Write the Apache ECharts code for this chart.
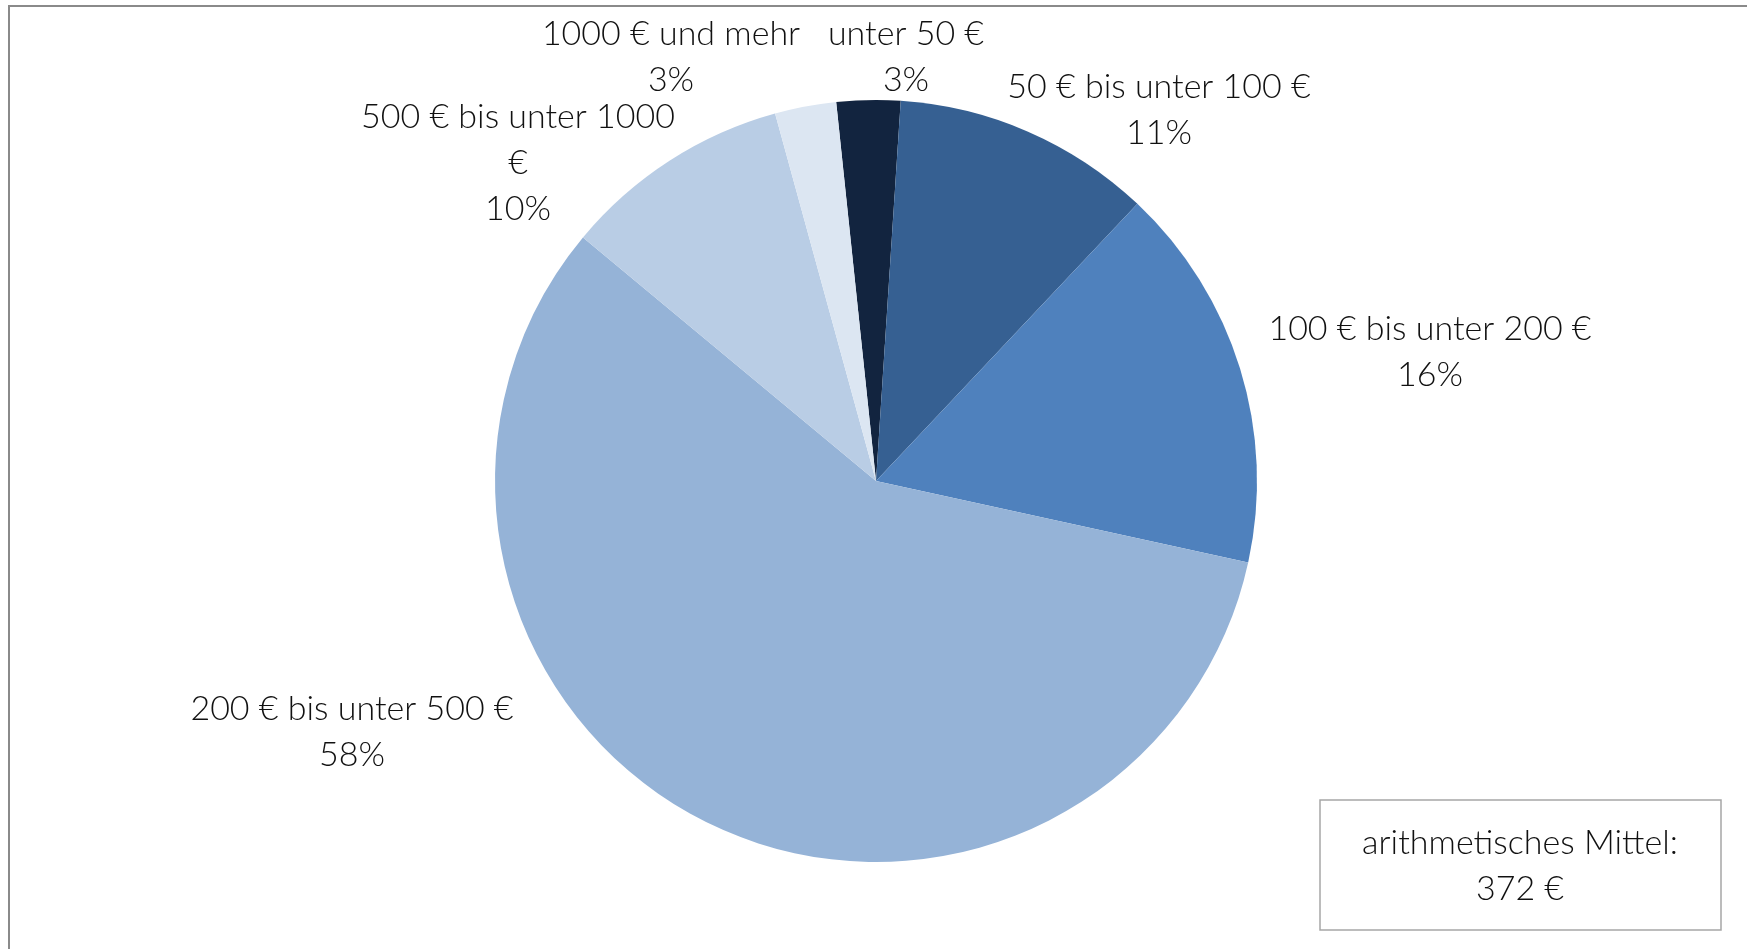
<!DOCTYPE html>
<html>
<head>
<meta charset="utf-8">
<script src="https://cdn.jsdelivr.net/npm/echarts@6/dist/echarts.min.js"></script>
<style>
html,body{margin:0;padding:0;background:#fff;}
#c{width:1747px;height:949px;}
</style>
</head>
<body>
<div id="c"></div>
<script>
// Data
const categories = ['unter 50 €', '50 € bis unter 100 €', '100 € bis unter 200 €', '200 € bis unter 500 €', '500 € bis unter 1000 €', '1000 € und mehr'];
const labelTexts = ['unter 50 €', '50 € bis unter 100 €', '100 € bis unter 200 €', '200 € bis unter 500 €', '500 € bis unter 1000\n€', '1000 € und mehr'];
const shares = [2.7, 11.0, 16.4, 57.6, 9.7, 2.6];
const meanLabel = 'arithmetisches Mittel:';
const meanValue = '372 €';

// Styles / layout
const colors = ['#12243f', '#366092', '#4f81bd', '#95b3d7', '#b9cde5', '#dce6f2'];
const labelCenters = [[906, 57], [1159, 110], [1430, 352], [352, 732], [518, 163], [671, 57]];
const FONT = 'Lato';
const FS = 34;

const total = shares.reduce((a, b) => a + b, 0);
const chart = echarts.init(document.getElementById('c'), null, {renderer: 'canvas'});
chart.setOption({
  backgroundColor: '#ffffff',
  animation: false,
  graphic: [
    {type: 'polyline', shape: {points: [[9, 960], [9, 6], [1760, 6]]}, style: {stroke: '#8a8a8a', lineWidth: 2, fill: null}},
    {type: 'rect', shape: {x: 1320, y: 800, width: 401, height: 130}, style: {fill: '#fff', stroke: '#a6a6a6', lineWidth: 1.5}},
    {type: 'text', x: 1520, y: 843, style: {text: meanLabel, font: '300 ' + FS + 'px ' + FONT, fill: '#111', align: 'center', verticalAlign: 'middle'}},
    {type: 'text', x: 1520, y: 889, style: {text: meanValue, font: '300 ' + FS + 'px ' + FONT, fill: '#111', align: 'center', verticalAlign: 'middle'}}
  ],
  series: [{
    type: 'pie',
    center: [876, 481],
    radius: [0, 381],
    startAngle: 96,
    clockwise: true,
    silent: true,
    data: categories.map((c, i) => ({name: c, value: shares[i], itemStyle: {color: colors[i]}})),
    label: {
      show: true,
      position: 'outside',
      formatter: p => labelTexts[p.dataIndex] + '\n' + Math.round(p.value / total * 100) + '%',
      fontFamily: FONT,
      fontWeight: 300,
      fontSize: FS,
      lineHeight: 46,
      color: '#111',
      align: 'center'
    },
    labelLine: {show: false},
    labelLayout: p => ({x: labelCenters[p.dataIndex][0], y: labelCenters[p.dataIndex][1], align: 'center', verticalAlign: 'middle'})
  }]
});
</script>
</body>
</html>
